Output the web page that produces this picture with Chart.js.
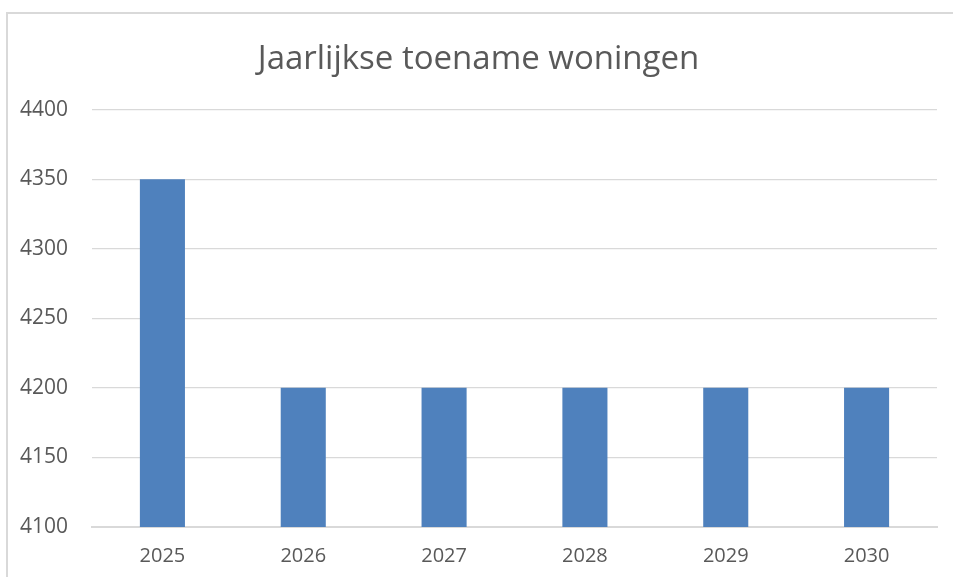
<!DOCTYPE html>
<html>
<head>
<meta charset="utf-8">
<script src="https://cdn.jsdelivr.net/npm/chart.js@4/dist/chart.umd.min.js"></script>
<style>
  html, body { margin: 0; padding: 0; background: #fff; overflow: hidden; }
  #wrap { position: absolute; left: 0; top: 0; width: 953px; height: 577px; }
  #frame { position: absolute; left: 6px; top: 12px; width: 1000px; height: 700px;
           border: 2px solid #d9d9d9; pointer-events: none; box-sizing: border-box; }
</style>
</head>
<body>
<div id="wrap"><canvas id="barChart" width="953" height="577"></canvas></div>
<div id="frame"></div>
<script>
var years = ['2025', '2026', '2027', '2028', '2029', '2030'];
var woningen = [4350, 4200, 4200, 4200, 4200, 4200];
var yMin = 4100;
var yMax = 4400;
var yStep = 50;

var textColor = '#595959';
var fontFamily = "'Open Sans', 'Noto Sans', sans-serif";

var ctxBar = document.getElementById('barChart').getContext('2d');
var barChart = new Chart(ctxBar, {
    type: 'bar',
    data: {
        labels: years,
        datasets: [{
            label: 'Toename woningen',
            data: woningen,
            backgroundColor: '#4f81bd',
            borderWidth: 0,
            barPercentage: 0.32,
            categoryPercentage: 1.0,
        }]
    },
    options: {
        responsive: false,
        animation: false,
        layout: { padding: { left: 20, right: 16, top: 0, bottom: 0 } },
        plugins: {
            legend: { display: false },
            tooltip: { enabled: false },
            title: {
                display: true,
                text: 'Jaarlijkse toename woningen',
                color: textColor,
                font: { family: fontFamily, size: 33, weight: 'normal' },
                padding: { top: 40, bottom: 30 },
            },
        },
        scales: {
            x: {
                grid: { display: false },
                border: { display: true, color: '#d9d9d9', width: 2 },
                ticks: { color: textColor, font: { family: fontFamily, size: 20 }, padding: 9 },
            },
            y: {
                min: yMin,
                max: yMax,
                ticks: {
                    stepSize: yStep,
                    color: textColor,
                    font: { family: fontFamily, size: 21 },
                    crossAlign: 'far',
                    padding: 20,
                    callback: function (v) { return String(v); },
                },
                grid: { color: '#d9d9d9', lineWidth: 1.3, drawTicks: false },
                border: { display: false },
                afterFit: function (scale) { scale.width = 72; },
            },
        },
    },
});
</script>
</body>
</html>
